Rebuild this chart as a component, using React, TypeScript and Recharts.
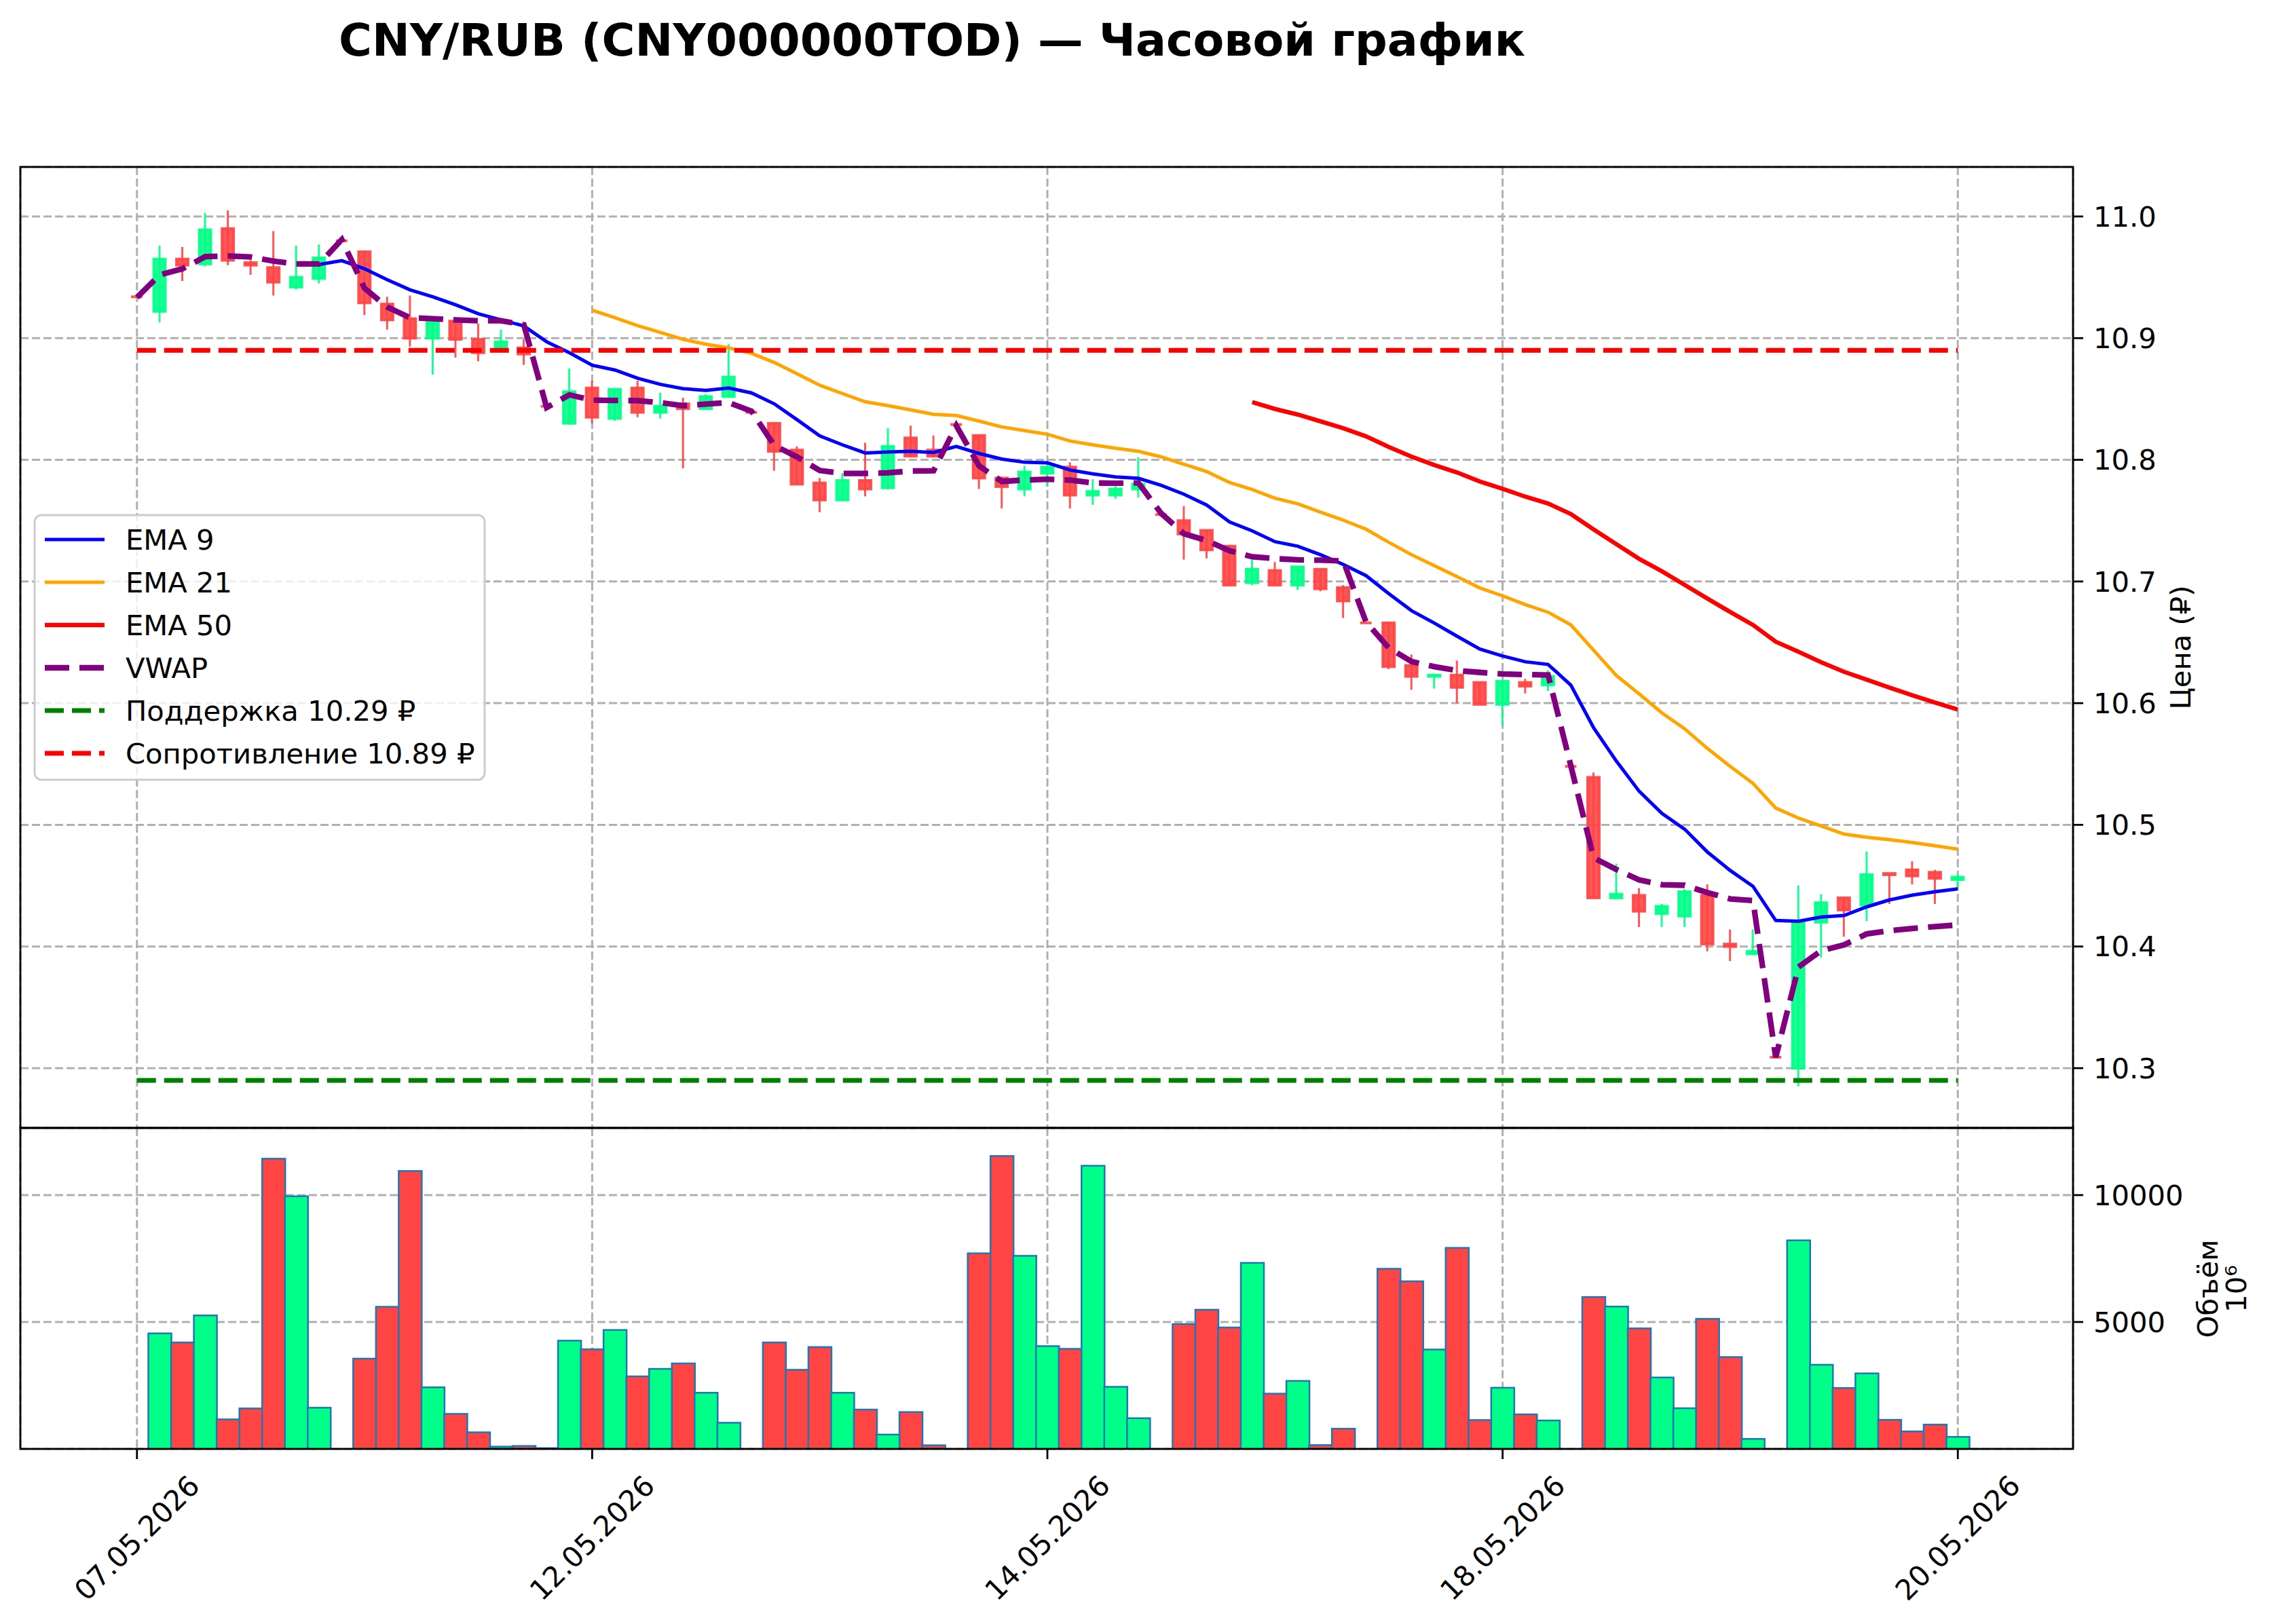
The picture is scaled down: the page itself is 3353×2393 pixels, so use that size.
import React from 'react';
import { ComposedChart, Bar, Line, XAxis, YAxis, CartesianGrid } from 'recharts';

// ---- data (hourly candles, index-based x axis) ----
const dateTicks = [0, 20, 40, 60, 80];
const dateLabels = ['07.05.2026', '12.05.2026', '14.05.2026', '18.05.2026', '20.05.2026'];

const opens = [10.934, 10.922, 10.965, 10.961, 10.990, 10.962, 10.958, 10.942, 10.949, 10.980,
  10.971, 10.928, 10.916, 10.900, 10.914, 10.899, 10.892, 10.892, 10.844, 10.830,
  10.859, 10.834, 10.859, 10.839, 10.846, 10.842, 10.852, 10.839, 10.830, 10.808,
  10.781, 10.767, 10.783, 10.777, 10.818, 10.808, 10.829, 10.820, 10.785, 10.776,
  10.789, 10.794, 10.771, 10.771, 10.776, 10.755, 10.750, 10.742, 10.729, 10.699,
  10.709, 10.697, 10.710, 10.695, 10.666, 10.666, 10.631, 10.622, 10.623, 10.617,
  10.599, 10.617, 10.615, 10.548, 10.539, 10.440, 10.442, 10.427, 10.425, 10.442,
  10.402, 10.394, 10.309, 10.300, 10.420, 10.440, 10.434, 10.460, 10.463, 10.461,
  10.455];
const highs = [10.934, 10.976, 10.975, 11.003, 11.005, 10.964, 10.988, 10.976, 10.977, 10.980,
  10.972, 10.934, 10.935, 10.914, 10.915, 10.912, 10.907, 10.899, 10.844, 10.875,
  10.865, 10.858, 10.865, 10.855, 10.851, 10.854, 10.895, 10.839, 10.831, 10.811,
  10.785, 10.789, 10.814, 10.826, 10.828, 10.820, 10.829, 10.821, 10.786, 10.795,
  10.797, 10.798, 10.784, 10.778, 10.802, 10.755, 10.762, 10.742, 10.730, 10.718,
  10.716, 10.712, 10.710, 10.697, 10.666, 10.667, 10.640, 10.624, 10.635, 10.617,
  10.618, 10.620, 10.627, 10.548, 10.543, 10.468, 10.448, 10.435, 10.447, 10.451,
  10.414, 10.414, 10.309, 10.450, 10.443, 10.440, 10.478, 10.460, 10.470, 10.463,
  10.459];
const lows = [10.934, 10.913, 10.947, 10.959, 10.960, 10.952, 10.935, 10.940, 10.945, 10.980,
  10.919, 10.907, 10.893, 10.870, 10.884, 10.881, 10.890, 10.878, 10.844, 10.829,
  10.830, 10.832, 10.835, 10.834, 10.793, 10.841, 10.851, 10.839, 10.791, 10.780,
  10.757, 10.766, 10.770, 10.776, 10.802, 10.802, 10.829, 10.776, 10.760, 10.770,
  10.778, 10.760, 10.763, 10.768, 10.769, 10.755, 10.718, 10.719, 10.696, 10.697,
  10.697, 10.693, 10.692, 10.670, 10.666, 10.628, 10.611, 10.612, 10.600, 10.599,
  10.582, 10.608, 10.610, 10.548, 10.440, 10.440, 10.416, 10.416, 10.416, 10.396,
  10.388, 10.393, 10.309, 10.285, 10.391, 10.408, 10.421, 10.435, 10.451, 10.435,
  10.448];
const closes = [10.934, 10.965, 10.960, 10.989, 10.964, 10.960, 10.946, 10.950, 10.966, 10.980,
  10.929, 10.915, 10.900, 10.913, 10.899, 10.888, 10.897, 10.887, 10.844, 10.856,
  10.835, 10.858, 10.839, 10.844, 10.842, 10.852, 10.868, 10.839, 10.807, 10.780,
  10.767, 10.783, 10.776, 10.811, 10.803, 10.803, 10.829, 10.785, 10.778, 10.790,
  10.794, 10.771, 10.774, 10.776, 10.780, 10.755, 10.739, 10.726, 10.697, 10.710,
  10.697, 10.712, 10.694, 10.684, 10.666, 10.630, 10.622, 10.623, 10.613, 10.599,
  10.618, 10.614, 10.622, 10.548, 10.440, 10.443, 10.429, 10.433, 10.445, 10.402,
  10.400, 10.396, 10.309, 10.420, 10.436, 10.430, 10.459, 10.459, 10.458, 10.456,
  10.457];
const volumes = [0, 4552, 4194, 5260, 1165, 1595, 11434, 9955, 1622, 0,
  3557, 5600, 10950, 2428, 1380, 654, 90, 116, 30, 4265,
  3925, 4686, 2858, 3154, 3369, 2213, 1030, 0, 4194, 3118,
  4014, 2213, 1550, 565, 1452, 143, 0, 7706, 11541, 7608,
  4050, 3943, 11156, 2446, 1210, 0, 4919, 5484, 4785, 7330,
  2177, 2679, 152, 797, 0, 7097, 6604, 3916, 7921, 1138,
  2410, 1362, 1120, 0, 5986, 5609, 4749, 2814, 1604, 5125,
  3620, 394, 0, 8217, 3315, 2401, 2975, 1147, 690, 959,
  475];

const ema9 = [null, null, null, null, null, null, null, null, 10.9605, 10.9637,
  10.957, 10.948, 10.9397, 10.934, 10.9274, 10.920, 10.915, 10.910, 10.897, 10.888,
  10.8777, 10.8738, 10.867, 10.862, 10.8585, 10.857, 10.859, 10.855, 10.846, 10.833,
  10.8196, 10.8123, 10.8056, 10.8065, 10.807, 10.806, 10.811, 10.8052, 10.8006, 10.798,
  10.7975, 10.7916, 10.7885, 10.786, 10.7848, 10.779, 10.7717, 10.7628, 10.749, 10.7416,
  10.7327, 10.729, 10.722, 10.714, 10.7048, 10.690, 10.676, 10.6658, 10.655, 10.6444,
  10.6388, 10.634, 10.6318, 10.6148, 10.5797, 10.5523, 10.5276, 10.5094, 10.4964, 10.4776,
  10.4625, 10.4495, 10.4214, 10.4208, 10.4242, 10.4255, 10.4326, 10.4383, 10.4422, 10.445,
  10.4474];
const ema21 = [...Array(20).fill(null),
  10.923, 10.9168, 10.9103, 10.9047, 10.899, 10.895, 10.892, 10.8875, 10.880, 10.8707,
  10.8613, 10.8544, 10.8477, 10.8445, 10.841, 10.8374, 10.8364, 10.8318, 10.827, 10.824,
  10.821, 10.8154, 10.8123, 10.8095, 10.807, 10.8024, 10.7963, 10.7903, 10.7814, 10.7755,
  10.7684, 10.7638, 10.757, 10.7504, 10.743, 10.7322, 10.722, 10.713, 10.704, 10.6947,
  10.6882, 10.681, 10.6747, 10.6643, 10.6435, 10.6227, 10.6076, 10.592, 10.5789, 10.5628,
  10.548, 10.5341, 10.5138, 10.5055, 10.499, 10.4924, 10.4898, 10.4878, 10.4854, 10.4828,
  10.480];
const ema50 = [...Array(49).fill(null),
  10.8474, 10.8418, 10.8372, 10.8316, 10.826, 10.8193, 10.8106, 10.8026, 10.7957, 10.7896,
  10.7822, 10.7762, 10.7697, 10.7641, 10.7554, 10.7428, 10.7307, 10.7186, 10.7084, 10.6972,
  10.686, 10.6749, 10.6643, 10.6505, 10.6422, 10.6336, 10.6258, 10.6193, 10.6128, 10.6065,
  10.6005, 10.5948];
const vwap = [10.9335, 10.952, 10.957, 10.967, 10.9676, 10.9667, 10.9633, 10.961, 10.961, 10.981,
  10.941, 10.9255, 10.9168, 10.916, 10.915, 10.9143, 10.9143, 10.911, 10.843, 10.8534,
  10.849, 10.8488, 10.8486, 10.847, 10.8445, 10.8458, 10.847, 10.840, 10.8118, 10.8024,
  10.7912, 10.7888, 10.7888, 10.7893, 10.7908, 10.791, 10.828, 10.795, 10.7822, 10.7834,
  10.784, 10.7833, 10.781, 10.7807, 10.781, 10.756, 10.7392, 10.7336, 10.7253, 10.7203,
  10.7188, 10.7178, 10.7175, 10.7169, 10.6667, 10.6454, 10.6342, 10.630, 10.6268, 10.6253,
  10.624, 10.6235, 10.6232, 10.5484, 10.4729, 10.4633, 10.4547, 10.4508, 10.4503, 10.4443,
  10.4391, 10.4378, 10.3089, 10.3831, 10.3966, 10.4013, 10.4104, 10.413, 10.4148, 10.4164,
  10.4177];

const SUPPORT = 10.29;
const RESISTANCE = 10.89;
const priceTicks = [10.3, 10.4, 10.5, 10.6, 10.7, 10.8, 10.9, 11.0];
const volumeTicks = [5000, 10000];

const rows = opens.map((o, i) => ({
  i,
  open: o,
  high: highs[i],
  low: lows[i],
  close: closes[i],
  range: [lows[i], highs[i]],
  up: closes[i] > o,
  vol: volumes[i],
  ema9: ema9[i],
  ema21: ema21[i],
  ema50: ema50[i],
  vwap: vwap[i],
  support: SUPPORT,
  resistance: RESISTANCE,
}));

// ---- layout (px) ----
const W = 3353;
const H = 2393;
const FONT = '"DejaVu Sans", sans-serif';
const PLOT_L = 30;
const PLOT_R = 3054;
const PRICE_TOP = 246;
const SPLIT = 1662;
const VOL_BOTTOM = 2135;
const PAD = { left: 155, right: 153 };
const Y_W = 150;

const GREEN = '#00ff88';
const RED = '#ff4444';
const GRID = '#b0b0b0';

const Candle = (props: any) => {
  const { x, y, width, height, payload } = props;
  if (x == null || y == null) return null;
  const { open, close, high, low } = payload;
  const top = Math.min(y, y + height);
  const bottom = Math.max(y, y + height);
  const span = high - low;
  const py = (v: number) => (span > 0 ? top + ((high - v) / span) * (bottom - top) : top);
  const color = close > open ? GREEN : RED;
  const cx = x + width / 2;
  const bTop = py(Math.max(open, close));
  const bBot = py(Math.min(open, close));
  return (
    <g>
      {bottom - top > 0.5 && (
        <line x1={cx} x2={cx} y1={top} y2={bottom} stroke={color} strokeOpacity={0.9} strokeWidth={3} />
      )}
      {bBot - bTop < 1 ? (
        <line x1={x} x2={x + width} y1={bTop} y2={bTop} stroke={color} strokeOpacity={0.9} strokeWidth={4} />
      ) : (
        <rect x={x} y={bTop} width={width} height={bBot - bTop} fill={color} fillOpacity={0.9}
          stroke={color} strokeOpacity={0.9} strokeWidth={4} />
      )}
    </g>
  );
};

const VolumeBar = (props: any) => {
  const { x, y, width, height, payload } = props;
  if (x == null || y == null) return null;
  const color = payload.up ? GREEN : RED;
  if (!(height > 1)) {
    return <line x1={x} x2={x + width} y1={y + (height || 0)} y2={y + (height || 0)} stroke="#1f77b4" strokeWidth={2} />;
  }
  return <rect x={x} y={y} width={width} height={height} fill={color} stroke="#1f77b4" strokeWidth={2.5} />;
};

const DateTick = (props: any) => {
  const { x, y, payload } = props;
  const k = dateTicks.indexOf(payload.value);
  const cy = y + 101;
  return (
    <text x={x} y={cy} textAnchor="middle" dominantBaseline="central" fontSize={41.7}
      fontFamily={FONT} fill="#000" transform={`rotate(-45 ${x} ${cy})`}>
      {k >= 0 ? dateLabels[k] : ''}
    </text>
  );
};

const axisTick = { fontSize: 41.7, fontFamily: FONT, fill: '#000' };
const tickLine = { stroke: '#000', strokeWidth: 2.8 };

const legendItems = [
  { label: 'EMA 9', color: 'blue', width: 5, dash: undefined },
  { label: 'EMA 21', color: 'orange', width: 5, dash: undefined },
  { label: 'EMA 50', color: 'red', width: 6.3, dash: undefined },
  { label: 'VWAP', color: 'purple', width: 8.3, dash: '36 15' },
  { label: `Поддержка ${SUPPORT.toFixed(2)} ₽`, color: 'green', width: 7, dash: '28 12' },
  { label: `Сопротивление ${RESISTANCE.toFixed(2)} ₽`, color: 'red', width: 7, dash: '28 12' },
];

export default function App() {
  return (
    <div style={{ position: 'absolute', left: 0, top: 0, width: W, height: H, background: '#fff', fontFamily: FONT }}>
      <div style={{ position: 'absolute', left: 0, top: 0 }}>
        <ComposedChart width={W} height={SPLIT} data={rows}
          margin={{ top: PRICE_TOP, right: W - PLOT_R - Y_W, bottom: 0, left: PLOT_L }}>
          <CartesianGrid stroke={GRID} strokeWidth={3} strokeDasharray="12 5" />
          <XAxis dataKey="i" type="category" hide padding={PAD} ticks={dateTicks} interval={0} />
          <YAxis orientation="right" width={Y_W} domain={[10.2509, 11.0407]} ticks={priceTicks}
            allowDataOverflow axisLine={false} tickLine={tickLine} tickSize={15} tickMargin={15}
            tick={axisTick} tickFormatter={(v: number) => v.toFixed(1)} />
          <Bar dataKey="range" barSize={17} shape={Candle} isAnimationActive={false} />
          <Line dataKey="ema9" stroke="blue" strokeWidth={5} dot={false} activeDot={false} isAnimationActive={false} />
          <Line dataKey="ema21" stroke="orange" strokeWidth={5} dot={false} activeDot={false} isAnimationActive={false} />
          <Line dataKey="ema50" stroke="red" strokeWidth={6.3} dot={false} activeDot={false} isAnimationActive={false} />
          <Line dataKey="vwap" stroke="purple" strokeWidth={8.3} strokeDasharray="36 15" dot={false} activeDot={false} isAnimationActive={false} />
          <Line dataKey="support" stroke="green" strokeWidth={7} strokeDasharray="28 12" dot={false} activeDot={false} isAnimationActive={false} />
          <Line dataKey="resistance" stroke="red" strokeWidth={7} strokeDasharray="28 12" dot={false} activeDot={false} isAnimationActive={false} />
        </ComposedChart>
      </div>

      <div style={{ position: 'absolute', left: 0, top: SPLIT }}>
        <ComposedChart width={W} height={H - SPLIT} data={rows} barCategoryGap={0} barGap={0}
          margin={{ top: 0, right: W - PLOT_R - Y_W, bottom: 0, left: PLOT_L }}>
          <CartesianGrid stroke={GRID} strokeWidth={3} strokeDasharray="12 5" />
          <XAxis dataKey="i" type="category" height={H - VOL_BOTTOM} padding={PAD} ticks={dateTicks}
            interval={0} axisLine={false} tickLine={tickLine} tickSize={15} tickMargin={15} tick={<DateTick />} />
          <YAxis orientation="right" width={Y_W} domain={[0, 12647]} ticks={volumeTicks} allowDataOverflow
            axisLine={false} tickLine={tickLine} tickSize={15} tickMargin={15} tick={axisTick} />
          <Bar dataKey="vol" shape={VolumeBar} isAnimationActive={false} />
        </ComposedChart>
      </div>

      <svg width={W} height={H} style={{ position: 'absolute', left: 0, top: 0, pointerEvents: 'none' }}>
        <text x={1373} y={82} textAnchor="middle" fontSize={66.7} fontWeight="bold" fontFamily={FONT}>
          CNY/RUB (CNY000000TOD) — Часовой график
        </text>

        <rect x={PLOT_L} y={PRICE_TOP} width={PLOT_R - PLOT_L} height={SPLIT - PRICE_TOP}
          fill="none" stroke="#000" strokeWidth={2.8} />
        <rect x={PLOT_L} y={SPLIT} width={PLOT_R - PLOT_L} height={VOL_BOTTOM - SPLIT}
          fill="none" stroke="#000" strokeWidth={2.8} />

        <text x={3212} y={954} textAnchor="middle" dominantBaseline="central" fontSize={41.7}
          fontFamily={FONT} transform="rotate(-90 3212 954)">Цена (₽)</text>
        <text x={3252} y={1899} textAnchor="middle" dominantBaseline="central" fontSize={41.7}
          fontFamily={FONT} transform="rotate(-90 3252 1899)">Объём</text>
        <text x={3294} y={1899} textAnchor="middle" dominantBaseline="central" fontSize={41.7}
          fontFamily={FONT} transform="rotate(-90 3294 1899)">10⁶</text>

        <rect x={51} y={759} width={663} height={390} rx={10} ry={10}
          fill="#fff" fillOpacity={0.8} stroke="#cccccc" strokeWidth={3} />
        {legendItems.map((it, k) => {
          const cy = 795 + k * 63;
          return (
            <g key={it.label}>
              <line x1={66} x2={154} y1={cy} y2={cy} stroke={it.color} strokeWidth={it.width}
                strokeDasharray={it.dash} />
              <text x={185} y={cy} dominantBaseline="central" fontSize={41.7} fontFamily={FONT}>
                {it.label}
              </text>
            </g>
          );
        })}
      </svg>
    </div>
  );
}
